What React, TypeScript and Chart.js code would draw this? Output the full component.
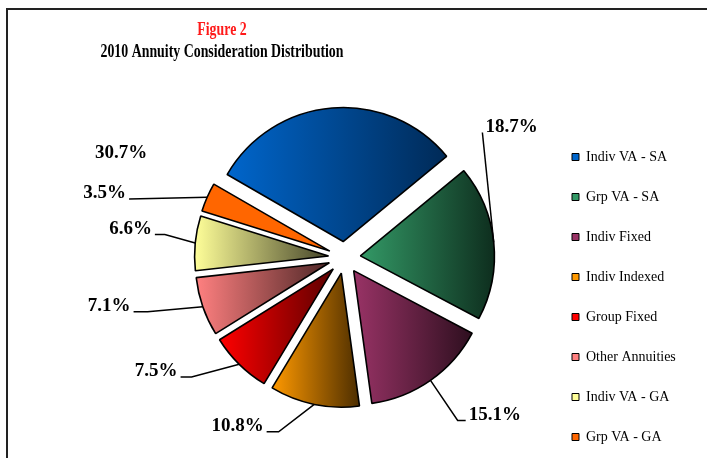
import React, { useEffect, useRef } from 'react';
import { Chart, registerables } from 'chart.js';

Chart.register(...registerables);

// ---- data ----
const categories = [
  'Indiv VA - SA',
  'Grp VA - SA',
  'Indiv Fixed',
  'Indiv Indexed',
  'Group Fixed',
  'Other Annuities',
  'Indiv VA - GA',
  'Grp VA - GA',
];
const shares = [30.7, 18.7, 15.1, 10.8, 7.5, 7.1, 6.6, 3.5];
const percentLabels = shares.map((v) => v.toFixed(1) + '%');
const titleLines = ['Figure 2', '2010 Annuity Consideration Distribution'];

// ---- styles ----
const baseColors = ['#0066cc', '#339966', '#993366', '#ff9900', '#ff0000', '#ff8080', '#ffff99', '#ff6600'];
const shadeColors = ['#002a57', '#0e2e1e', '#2e0f1f', '#4d2e00', '#5c0000', '#4d2626', '#45452a', '#ff6600'];

// label layout: text centre relative to pie centre, and horizontal leader elbow (null = no leader)
const labelOffsets: [number, number][] = [
  [-223.5, -104.5],
  [167, -130.5],
  [150.3, 157.5],
  [-107, 168.8],
  [-188.3, 114],
  [-235.3, 48.8],
  [-214, -28.5],
  [-239.8, -64],
];
const leaderElbows: (number | null)[] = [null, 0, 8, 12, 11, 14, 10, 0];

const EXPLODE = 16;
const PIE_RADIUS = 134;
const SERIF = '"Liberation Serif", "Times New Roman", serif';

function pieCentre(chart: any) {
  const ca = chart.chartArea;
  return { cx: (ca.left + ca.right) / 2, cy: (ca.top + ca.bottom) / 2 };
}

const explodePlugin = {
  id: 'explodeSlices',
  beforeDatasetsDraw(chart: any) {
    const meta = chart.getDatasetMeta(0);
    const { cx, cy } = pieCentre(chart);
    const ctx = chart.ctx;
    meta.data.forEach((arc: any, i: number) => {
      const mid = (arc.startAngle + arc.endAngle) / 2;
      arc.x = cx + Math.cos(mid) * EXPLODE;
      arc.y = cy + Math.sin(mid) * EXPLODE;
      const r = arc.outerRadius;
      const xs = [arc.x, arc.x + r * Math.cos(arc.startAngle), arc.x + r * Math.cos(arc.endAngle)];
      const q = Math.PI / 2;
      for (let k = Math.ceil(arc.startAngle / q); k * q <= arc.endAngle; k++) {
        xs.push(arc.x + r * Math.cos(k * q));
      }
      const g = ctx.createLinearGradient(Math.min(...xs), 0, Math.max(...xs), 0);
      g.addColorStop(0, baseColors[i]);
      g.addColorStop(1, shadeColors[i]);
      arc.options.backgroundColor = g;
    });
  },
};

const labelPlugin = {
  id: 'percentLabels',
  afterDatasetsDraw(chart: any) {
    const ctx = chart.ctx;
    const meta = chart.getDatasetMeta(0);
    const { cx, cy } = pieCentre(chart);
    ctx.save();
    ctx.font = 'bold 19px ' + SERIF;
    ctx.textAlign = 'center';
    ctx.textBaseline = 'middle';
    ctx.fillStyle = '#000';
    ctx.strokeStyle = '#000';
    ctx.lineWidth = 1.5;
    meta.data.forEach((arc: any, i: number) => {
      const [dx, dy] = labelOffsets[i];
      const tx = cx + dx;
      const ty = cy + dy;
      const text = percentLabels[i];
      ctx.fillText(text, tx, ty);
      const elbow = leaderElbows[i];
      if (elbow === null) return;
      const mid = (arc.startAngle + arc.endAngle) / 2;
      const ax = arc.x + arc.outerRadius * Math.cos(mid);
      const ay = arc.y + arc.outerRadius * Math.sin(mid);
      const w = ctx.measureText(text).width;
      const side = tx < cx ? 1 : -1;
      const px = tx + side * (w / 2 + 3);
      const py = ty + 5.5;
      ctx.beginPath();
      ctx.moveTo(ax, ay);
      ctx.lineTo(px + side * elbow, py);
      ctx.lineTo(px, py);
      ctx.stroke();
    });
    ctx.restore();
  },
};

const titlePlugin = {
  id: 'condensedTitle',
  afterDraw(chart: any) {
    const ctx = chart.ctx;
    const lines = [
      { text: titleLines[0], y: 35, color: '#ff1a1a' },
      { text: titleLines[1], y: 57, color: '#000' },
    ];
    ctx.save();
    ctx.font = 'bold 18px ' + SERIF;
    ctx.textAlign = 'center';
    ctx.textBaseline = 'alphabetic';
    lines.forEach((l) => {
      ctx.save();
      ctx.translate(222, l.y);
      ctx.scale(0.77, 1);
      ctx.fillStyle = l.color;
      ctx.fillText(l.text, 0, 0);
      ctx.restore();
    });
    ctx.restore();
  },
};

export default function App() {
  const canvasRef = useRef<HTMLCanvasElement | null>(null);

  useEffect(() => {
    const canvas = canvasRef.current;
    if (!canvas) return;
    const chart = new Chart(canvas, {
      type: 'pie',
      data: {
        labels: categories,
        datasets: [
          {
            data: shares,
            backgroundColor: baseColors,
            borderColor: '#000',
            borderWidth: 1.6,
            radius: PIE_RADIUS,
          } as any,
        ],
      },
      options: {
        responsive: false,
        maintainAspectRatio: false,
        animation: false,
        events: [],
        rotation: -60,
        layout: { padding: { left: 143, top: 45, right: 23, bottom: 0 } },
        plugins: {
          tooltip: { enabled: false },
          title: { display: false },
          legend: {
            display: true,
            position: 'right',
            align: 'end',
            maxWidth: 138,
            labels: {
              boxWidth: 7,
              boxHeight: 7,
              padding: 26,
              color: '#000',
              font: { family: SERIF, size: 14 },
              generateLabels: () =>
                categories.map((c, i) => ({
                  text: c,
                  fillStyle: baseColors[i],
                  strokeStyle: '#000',
                  lineWidth: 1,
                  hidden: false,
                  index: i,
                })),
            },
          },
        },
      } as any,
      plugins: [explodePlugin, labelPlugin, titlePlugin],
    });
    return () => chart.destroy();
  }, []);

  return (
    <div
      style={{
        position: 'fixed',
        left: 0,
        top: 0,
        width: 707,
        height: 458,
        overflow: 'hidden',
        background: '#fff',
      }}
    >
      <div
        style={{
          position: 'absolute',
          left: 6,
          top: 8,
          width: 800,
          height: 600,
          border: '2px solid #222',
          boxSizing: 'border-box',
        }}
      />
      <canvas
        ref={canvasRef}
        width={707}
        height={470}
        style={{ position: 'absolute', left: 0, top: 0, display: 'block' }}
      />
    </div>
  );
}
